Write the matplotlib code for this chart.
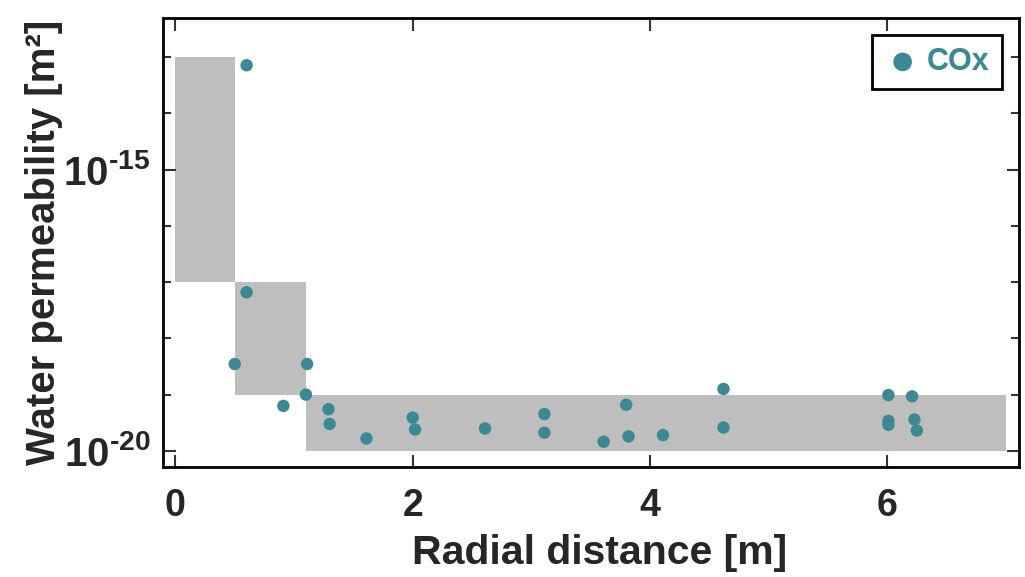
import numpy as np
import matplotlib
matplotlib.use("Agg")
import matplotlib.pyplot as plt
from matplotlib import font_manager
from matplotlib.ticker import FixedLocator, NullFormatter, FixedFormatter

# ====================== DATOS ======================
# zonas sombreadas (rango de permeabilidad por tramo radial)
zone_x0 = [0.0, 0.5, 1.1]
zone_x1 = [0.5, 1.1, 7.0]
zone_lo = [1e-17, 1e-19, 1e-20]
zone_hi = [1e-13, 1e-17, 1e-19]

# medidas COx
cox_r = [0.60, 0.60, 0.50, 1.11, 1.10, 0.91, 1.29, 1.30, 1.61, 2.00, 2.02,
         2.61, 3.11, 3.11, 3.61, 3.80, 3.82, 4.11, 4.62, 4.62,
         6.01, 6.21, 6.01, 6.01, 6.23, 6.25]
cox_k = [7.2e-14, 6.6e-18, 3.5e-19, 3.5e-19, 1.0e-19, 6.3e-20, 5.5e-20, 3.0e-20, 1.66e-20, 3.9e-20, 2.4e-20,
         2.5e-20, 4.5e-20, 2.1e-20, 1.45e-20, 6.6e-20, 1.8e-20, 1.9e-20, 1.26e-19, 2.6e-20,
         9.8e-20, 9.3e-20, 3.4e-20, 2.9e-20, 3.6e-20, 2.3e-20]

y_major = [1e-20, 1e-15]
y_major_labels = [r'$10^{\text{-20}}$', r'$10^{\text{-15}}$']
y_minor = [1e-19, 1e-18, 1e-17, 1e-16, 1e-14, 1e-13]
x_ticks = [0, 2, 4, 6]

TEAL = '#398a94'
GRAY = '#bebebe'
TXT = '#262626'

# ====================== FUENTES ======================
names = {f.name for f in font_manager.fontManager.ttflist}
tick_family = 'Liberation Sans Narrow' if 'Liberation Sans Narrow' in names else 'Liberation Sans'
plt.rcParams['font.family'] = ['Liberation Sans', 'DejaVu Sans']
plt.rcParams['font.weight'] = 'bold'
plt.rcParams['mathtext.fontset'] = 'custom'
plt.rcParams['mathtext.rm'] = f'{tick_family}:bold'
plt.rcParams['mathtext.it'] = f'{tick_family}:bold'
plt.rcParams['mathtext.bf'] = f'{tick_family}:bold'

# ====================== GRÁFICO ======================
fig = plt.figure(figsize=(10.25, 5.77), dpi=100)
ax = fig.add_axes([0.159, 0.191, 0.835, 0.778])

for x0, x1, lo, hi in zip(zone_x0, zone_x1, zone_lo, zone_hi):
    ax.fill_between([x0, x1], lo, hi, color=GRAY, linewidth=0, zorder=1)

ax.scatter(cox_r, cox_k, s=80, color=TEAL, edgecolors='none', zorder=3, label='COx')

ax.set_yscale('log')
ax.set_xlim(-0.105, 7.11)
ax.set_ylim(5.2e-21, 5.0e-13)

ax.yaxis.set_major_locator(FixedLocator(y_major))
ax.yaxis.set_major_formatter(FixedFormatter(y_major_labels))
ax.yaxis.set_minor_locator(FixedLocator(y_minor))
ax.yaxis.set_minor_formatter(NullFormatter())
ax.set_xticks(x_ticks)
ax.set_xticklabels([str(t) for t in x_ticks])

ax.tick_params(which='both', direction='in', top=True, right=True,
               color='#333333', width=1.5)
ax.tick_params(which='major', length=9, labelcolor=TXT)
ax.tick_params(axis='x', which='major', pad=15, labelsize=27)
ax.tick_params(axis='y', which='major', pad=9, labelsize=29)
ax.tick_params(which='minor', length=6)
for lab in ax.get_xticklabels():
    lab.set_family([tick_family, 'Liberation Sans'])
    lab.set_fontweight('bold')

for sp in ax.spines.values():
    sp.set_linewidth(2.0)
    sp.set_color('black')

ax.set_xlabel('Radial distance [m]', fontsize=29.5, fontweight='bold', color=TXT)
ax.set_ylabel('Water permeability [m²]', fontsize=29, fontweight='bold', color=TXT)
ax.xaxis.set_label_coords(0.51, -0.15)
ax.xaxis.label.set_va('top')
ax.yaxis.set_label_coords(-0.117, 0.5)

leg = ax.legend(loc='upper right', fontsize=22, frameon=True, fancybox=False,
                framealpha=1, handletextpad=0.2, handlelength=1.2,
                borderpad=0.4, markerscale=1.5, borderaxespad=0.55)
leg.get_frame().set_edgecolor('black')
leg.get_frame().set_linewidth(2.0)
for t in leg.get_texts():
    t.set_color(TEAL)
    t.set_fontweight('bold')

plt.savefig('out.png', dpi=100)
plt.close()
